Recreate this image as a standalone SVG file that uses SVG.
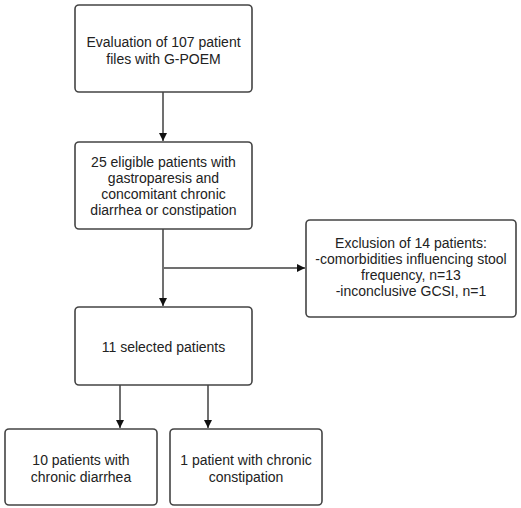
<svg xmlns="http://www.w3.org/2000/svg" width="521" height="508" viewBox="0 0 521 508">
<style>
.box{fill:#fff;stroke:#444;stroke-width:1.6}
.t{font-family:"Liberation Sans",Arial,sans-serif;font-size:14px;fill:#222;text-anchor:middle}
.ln{stroke:#707070;stroke-width:2;fill:none}
</style>
<defs>
<marker id="ah" viewBox="0 0 10 10" refX="10" refY="5" markerWidth="8" markerHeight="8" markerUnits="userSpaceOnUse" orient="auto">
<path d="M0,0 L10,5 L0,10 z" fill="#111"/>
</marker>
</defs>
<rect width="521" height="508" fill="#fff"/>
<g id="connectors">
<line class="ln" x1="163" y1="92" x2="163" y2="141" marker-end="url(#ah)"/>
<line class="ln" x1="163" y1="229" x2="163" y2="306" marker-end="url(#ah)"/>
<line class="ln" x1="163" y1="268" x2="305" y2="268" marker-end="url(#ah)"/>
<line class="ln" x1="120" y1="385" x2="120" y2="428" marker-end="url(#ah)"/>
<line class="ln" x1="208" y1="385" x2="208" y2="428" marker-end="url(#ah)"/>
</g>
<g id="n1">
<rect class="box" x="75" y="5" width="177" height="87" rx="4"/>
<text class="t" x="163.5" y="47">Evaluation of 107 patient</text>
<text class="t" x="163.5" y="64">files with G-POEM</text>
</g>
<g id="n2">
<rect class="box" x="75" y="142" width="177" height="87" rx="4"/>
<text class="t" x="163.5" y="167">25 eligible patients with</text>
<text class="t" x="163.5" y="183">gastroparesis and</text>
<text class="t" x="163.5" y="199">concomitant chronic</text>
<text class="t" x="163.5" y="215">diarrhea or constipation</text>
</g>
<g id="n3">
<rect class="box" x="306" y="220" width="210" height="97" rx="4"/>
<text class="t" x="411" y="248">Exclusion of 14 patients:</text>
<text class="t" x="411" y="264">-comorbidities influencing stool</text>
<text class="t" x="411" y="280">frequency, n=13</text>
<text class="t" x="411" y="296">-inconclusive GCSI, n=1</text>
</g>
<g id="n4">
<rect class="box" x="75" y="307" width="177" height="78" rx="4"/>
<text class="t" x="163.5" y="352">11 selected patients</text>
</g>
<g id="n5">
<rect class="box" x="5" y="429" width="152" height="76" rx="4"/>
<text class="t" x="81" y="465">10 patients with</text>
<text class="t" x="81" y="482">chronic diarrhea</text>
</g>
<g id="n6">
<rect class="box" x="170" y="429" width="152" height="76" rx="4"/>
<text class="t" x="246" y="465">1 patient with chronic</text>
<text class="t" x="246" y="482">constipation</text>
</g>
</svg>
